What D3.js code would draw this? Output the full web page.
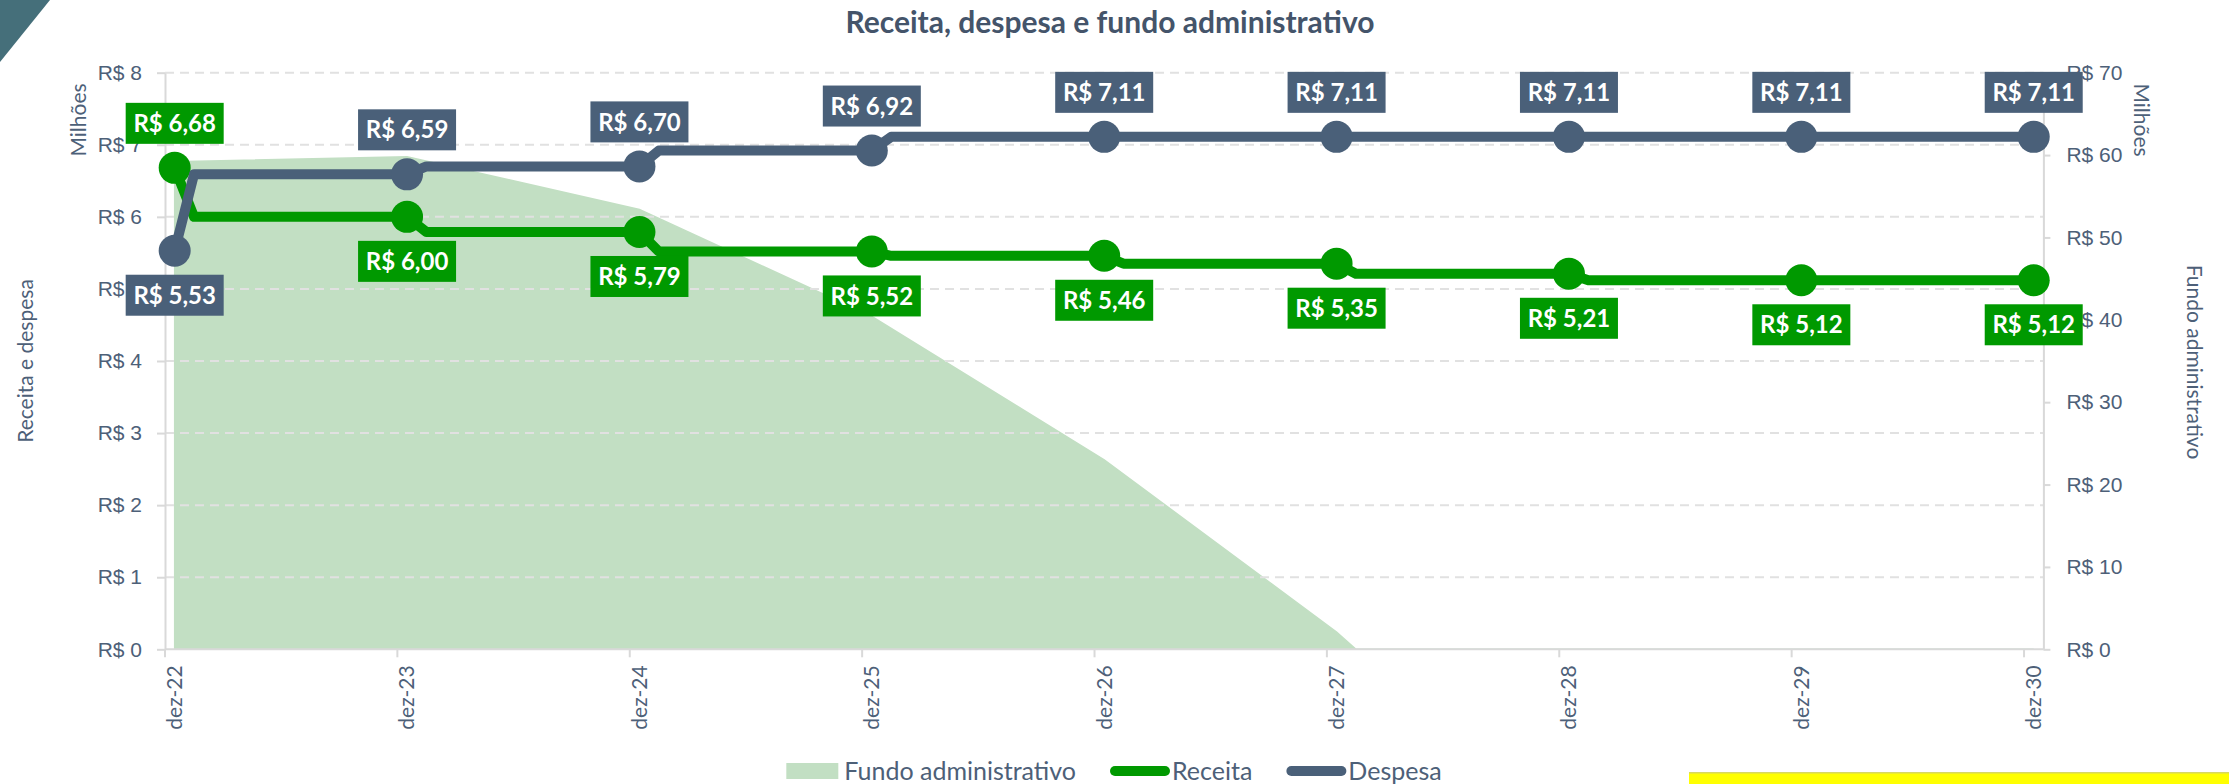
<!DOCTYPE html>
<html>
<head>
<meta charset="utf-8">
<script src="https://cdn.jsdelivr.net/npm/d3@7"></script>
<style>
  html, body { margin: 0; padding: 0; background: #ffffff; }
  svg { display: block; font-family: Lato, "Open Sans", "DejaVu Sans", sans-serif; }
</style>
</head>
<body>
<svg id="chart" width="2229" height="784"></svg>
<script>
// ---- data (R$ milhões) ----
const categories = ['dez-22', 'dez-23', 'dez-24', 'dez-25', 'dez-26', 'dez-27', 'dez-28', 'dez-29', 'dez-30'];
const receita = [6.68, 6.00, 5.79, 5.52, 5.46, 5.35, 5.21, 5.12, 5.12];
const despesa = [5.53, 6.59, 6.70, 6.92, 7.11, 7.11, 7.11, 7.11, 7.11];
// Fundo administrativo: December balances plus the month in which it runs out
const fundoMeses = ['2022-12', '2023-12', '2024-12', '2025-12', '2026-12', '2027-12', '2028-01', '2028-12', '2029-12', '2030-12'];
const fundoValores = [59.2, 59.8, 53.4, 40.4, 23.0, 2.1, 0, 0, 0, 0];
const leftTicks = [0, 1, 2, 3, 4, 5, 6, 7, 8];
const rightTicks = [0, 10, 20, 30, 40, 50, 60, 70];
const seriesNames = ['Fundo administrativo', 'Receita', 'Despesa'];

// ---- layout & style ----
const plot = { left: 165, right: 2043.4, top: 72.7, bottom: 649.3 };
const C = {
  receita: '#009900',
  despesa: '#4A6079',
  fundo: '#C2DFC3',
  title: '#44546A',
  text: '#4D6078',
  grid: '#E1E1E1',
  axis: '#D9D9D9'
};

const svg = d3.select('#chart');

const pt = d3.formatLocale({ decimal: ',', thousands: '.', grouping: [3], currency: ['R$ ', ''] });
const fmtLabel = pt.format('$.2f');
const fmtTick = pt.format('$.0f');

// monthly date axis: one band per month, Dec 2022 .. Dec 2030
const monthKey = d3.timeFormat('%Y-%m');
const slots = d3.timeMonths(new Date(2022, 11, 1), new Date(2031, 0, 1)).map(monthKey);
const x = d3.scaleBand().domain(slots).range([plot.left, plot.right]).padding(0);
const cx = k => x(k) + x.bandwidth() / 2;
const yearOf = c => 2000 + (+c.slice(4));
const decKey = c => `${yearOf(c)}-12`;
const janKey = c => `${yearOf(c)}-01`;

const yL = d3.scaleLinear().domain([0, 8]).range([plot.bottom, plot.top]);
const yR = d3.scaleLinear().domain([0, 70]).range([plot.bottom, plot.top]);

// ---- decorations ----
svg.append('path').attr('d', 'M0,0 L50,0 L0,62 Z').attr('fill', '#456F7A');
svg.append('rect').attr('x', 1689).attr('y', 773).attr('width', 540).attr('height', 11).attr('fill', '#FFFF00');
svg.append('rect').attr('x', 1689).attr('y', 772).attr('width', 540).attr('height', 1.5).attr('fill', '#D8D860');

// ---- title ----
svg.append('text')
  .attr('x', 1110).attr('y', 33)
  .attr('text-anchor', 'middle')
  .attr('font-size', 30).attr('font-weight', 700)
  .attr('fill', C.title)
  .text('Receita, despesa e fundo administrativo');

// ---- area: fundo administrativo (right axis) ----
const fundoData = fundoMeses.map((k, i) => ({ k, v: fundoValores[i] }));
const area = d3.area().x(d => cx(d.k)).y0(plot.bottom).y1(d => yR(d.v));
svg.append('path').datum(fundoData)
  .attr('d', area)
  .attr('fill', C.fundo)
  .attr('stroke', C.fundo).attr('stroke-width', 1.5);

// ---- gridlines ----
svg.append('g').selectAll('line').data(leftTicks.filter(t => t > 0)).join('line')
  .attr('x1', plot.left).attr('x2', plot.right)
  .attr('y1', d => yL(d)).attr('y2', d => yL(d))
  .attr('stroke', C.grid).attr('stroke-width', 2).attr('stroke-dasharray', '9,6');

// ---- axes ----
function styleAxis(g) {
  g.select('.domain').attr('stroke', C.axis).attr('stroke-width', 2);
  g.selectAll('.tick line').attr('stroke', C.axis).attr('stroke-width', 2);
  g.selectAll('.tick text').attr('fill', C.text).attr('font-size', 21).attr('font-family', null);
}
svg.append('g').attr('transform', `translate(${plot.left},0)`)
  .call(d3.axisLeft(yL).tickValues(leftTicks).tickFormat(fmtTick).tickSize(8).tickSizeOuter(0).tickPadding(15))
  .call(styleAxis);
svg.append('g').attr('transform', `translate(${plot.right},0)`)
  .call(d3.axisRight(yR).tickValues(rightTicks).tickFormat(fmtTick).tickSize(7).tickSizeOuter(0).tickPadding(16))
  .call(styleAxis);

// bottom axis: ticks at the start of each December, labels centred on the month
const xAxis = svg.append('g');
xAxis.append('line')
  .attr('x1', plot.left).attr('x2', plot.right)
  .attr('y1', plot.bottom).attr('y2', plot.bottom)
  .attr('stroke', C.axis).attr('stroke-width', 2);
xAxis.selectAll('line.tick').data(categories).join('line').attr('class', 'tick')
  .attr('x1', d => x(decKey(d))).attr('x2', d => x(decKey(d)))
  .attr('y1', plot.bottom).attr('y2', plot.bottom + 8)
  .attr('stroke', C.axis).attr('stroke-width', 2);
xAxis.selectAll('text').data(categories).join('text')
  .attr('transform', d => `translate(${cx(decKey(d))},${plot.bottom + 16}) rotate(-90)`)
  .attr('text-anchor', 'end').attr('dy', '0.35em')
  .attr('font-size', 21).attr('fill', C.text)
  .text(d => d);

// ---- axis titles ----
function vText(tx, ty, angle, txt) {
  svg.append('text')
    .attr('transform', `translate(${tx},${ty}) rotate(${angle})`)
    .attr('text-anchor', 'middle')
    .attr('font-size', 21).attr('fill', C.text)
    .text(txt);
}
vText(33, 361, -90, 'Receita e despesa');
vText(86, 120, -90, 'Milhões');
vText(2134, 120, 90, 'Milhões');
vText(2187, 362, 90, 'Fundo administrativo');

// ---- lines with yearly steps (value changes in January) ----
function stepPoints(vals) {
  const pts = [];
  vals.forEach((v, i) => {
    const c = categories[i];
    if (i > 0) pts.push([cx(janKey(c)), yL(v)]);
    pts.push([cx(decKey(c)), yL(v)]);
  });
  return pts;
}
const line = d3.line();
const series = [
  { name: 'Receita', vals: receita, color: C.receita, other: despesa },
  { name: 'Despesa', vals: despesa, color: C.despesa, other: receita }
];
series.forEach(s => {
  const g = svg.append('g');
  g.append('path')
    .attr('d', line(stepPoints(s.vals)))
    .attr('fill', 'none').attr('stroke', s.color)
    .attr('stroke-width', 10).attr('stroke-linejoin', 'round').attr('stroke-linecap', 'round');
  g.selectAll('circle').data(s.vals).join('circle')
    .attr('cx', (d, i) => cx(decKey(categories[i])))
    .attr('cy', d => yL(d))
    .attr('r', 16).attr('fill', s.color);
});

// ---- data labels ----
const boxW = 98, boxH = 41, gap = 24;
series.forEach(s => {
  const g = svg.append('g');
  s.vals.forEach((v, i) => {
    const px = cx(decKey(categories[i]));
    const py = yL(v);
    const above = v >= s.other[i];
    const top = above ? py - gap - boxH : py + gap;
    g.append('rect')
      .attr('x', px - boxW / 2).attr('y', top)
      .attr('width', boxW).attr('height', boxH)
      .attr('fill', s.color);
    g.append('text')
      .attr('x', px).attr('y', top + boxH / 2)
      .attr('dy', '0.36em').attr('text-anchor', 'middle')
      .attr('font-size', 24).attr('font-weight', 700).attr('fill', '#ffffff')
      .text(fmtLabel(v));
  });
});

// ---- legend ----
const legend = svg.append('g');
const ly = 771;
const items = [];
let lx = 0;
seriesNames.forEach((name, i) => {
  const it = legend.append('g');
  const swW = i === 0 ? 52 : 60;
  if (i === 0) {
    it.append('rect').attr('x', 0).attr('y', -8).attr('width', swW).attr('height', 16).attr('fill', C.fundo);
  } else {
    it.append('line').attr('x1', 5).attr('x2', swW - 5).attr('y1', 0).attr('y2', 0)
      .attr('stroke', i === 1 ? C.receita : C.despesa)
      .attr('stroke-width', 10).attr('stroke-linecap', 'round');
  }
  const t = it.append('text').attr('x', swW + (i === 0 ? 6 : 2)).attr('dy', '0.35em')
    .attr('font-size', 25).attr('fill', C.text).text(name);
  const w = swW + (i === 0 ? 6 : 2) + t.node().getComputedTextLength();
  items.push({ it, x: lx });
  lx += w + 34;
});
const legendW = lx - 34;
const lx0 = 1114 - legendW / 2;
items.forEach(d => d.it.attr('transform', `translate(${lx0 + d.x},${ly})`));
</script>
</body>
</html>
